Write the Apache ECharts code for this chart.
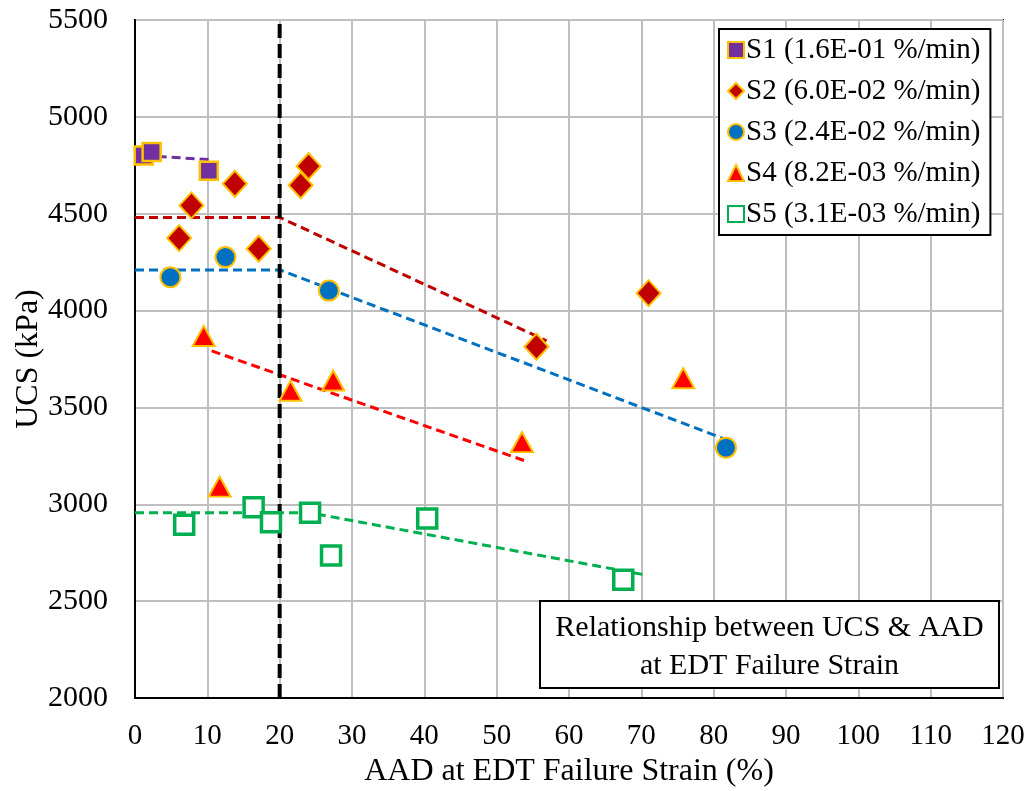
<!DOCTYPE html>
<html>
<head>
<meta charset="utf-8">
<script src="https://cdn.jsdelivr.net/npm/echarts@6/dist/echarts.min.js"></script>
<style>html,body{margin:0;padding:0;background:#fff}#c{width:1029px;height:791px}</style>
</head>
<body>
<div id="c"></div>
<script>
// ---- Data ----
const seriesNames = ['S1 (1.6E-01 %/min)','S2 (6.0E-02 %/min)','S3 (2.4E-02 %/min)','S4 (8.2E-03 %/min)','S5 (3.1E-03 %/min)'];
const s1 = [[1.2,4800],[2.3,4818],[10.2,4722]];
const s2 = [[6.1,4374],[7.8,4543],[13.8,4655],[17.1,4319],[22.9,4647],[24.0,4745],[55.5,3813],[71.0,4090]];
const s3 = [[4.9,4172],[12.5,4276],[26.8,4103],[81.7,3292]];
const s4 = [[9.5,3869],[11.7,3091],[21.5,3586],[27.4,3639],[53.5,3321],[75.8,3651]];
const s5 = [[6.8,2895],[16.4,2985],[18.8,2907],[24.2,2956],[27.1,2735],[40.4,2926],[67.5,2611]];
const t1 = [[1.2,4800],[10.8,4778]];
const t2 = [[0,4481],[20,4481],[56.9,3844]];
const t3 = [[0,4210],[20,4210],[81.5,3337]];
const t4 = [[10.6,3792],[54.0,3223]];
const t5 = [[0,2956],[24.2,2956],[70.3,2637]];
const threshold = [[20,2000],[20,5500]];
const xTicks = {min:0,max:120,interval:10};
const yTicks = {min:2000,max:5500,interval:500};
const noteLines = ['Relationship between UCS & AAD','at EDT Failure Strain'];

const FONT = "'Times New Roman','Liberation Serif',serif";
const ORANGE = '#FFC000';
const colors = ['#7030A0','#C00000','#0070C0','#FF0000','#00B050'];

function trend(data,color){
  return {type:'line',data:data,symbol:'none',silent:true,z:3,
    lineStyle:{color:color,width:3,type:[9,5]},animation:false};
}

const chart = echarts.init(document.getElementById('c'),null,{renderer:'canvas'});
chart.setOption({
  animation:false,
  backgroundColor:'#fff',
  grid:{left:135,right:26,top:20,bottom:93,containLabel:false,outerBoundsMode:'none',
    show:true,borderColor:'#000',borderWidth:2,backgroundColor:'transparent'},
  xAxis:{type:'value',min:xTicks.min,max:xTicks.max,interval:xTicks.interval,
    name:'AAD at EDT Failure Strain (%)',nameLocation:'middle',nameGap:58,nameMoveOverlap:false,
    nameTextStyle:{fontFamily:FONT,fontSize:32,color:'#000'},
    axisLine:{show:true,onZero:false,lineStyle:{color:'#000',width:2}},
    axisTick:{show:false},
    axisLabel:{fontFamily:FONT,fontSize:29,color:'#000',margin:24},
    splitLine:{show:true,lineStyle:{color:'#BFBFBF',width:2}}},
  yAxis:{type:'value',min:yTicks.min,max:yTicks.max,interval:yTicks.interval,
    name:'UCS (kPa)',nameLocation:'middle',nameGap:90,nameMoveOverlap:false,
    nameTextStyle:{fontFamily:FONT,fontSize:32,color:'#000'},
    axisLine:{show:true,onZero:false,lineStyle:{color:'#000',width:2}},
    axisTick:{show:false},
    axisLabel:{fontFamily:FONT,fontSize:30,color:'#000',margin:27,formatter:function(v){return String(v);}},
    splitLine:{show:true,lineStyle:{color:'#BFBFBF',width:2}}},
  legend:{
    orient:'vertical',left:719,top:29,
    data:[
      {name:seriesNames[0],icon:'rect'},
      {name:seriesNames[1],icon:'diamond'},
      {name:seriesNames[2],icon:'circle'},
      {name:seriesNames[3],icon:'triangle'},
      {name:seriesNames[4],icon:'rect'}],
    itemWidth:16,itemHeight:16,itemGap:11,
    padding:[6,10,6,8],
    backgroundColor:'#fff',borderColor:'#000',borderWidth:2,
    textStyle:{fontFamily:FONT,fontSize:29,color:'#000',lineHeight:30,padding:[0,0,0,-3]},
    selectedMode:false
  },
  graphic:[{type:'group',left:539,top:600,z:100,children:[
    {type:'rect',z:100,shape:{x:0,y:0,width:459,height:87},style:{fill:'#fff',stroke:'#000',lineWidth:2}},
    {type:'text',z:101,x:229.5,y:27,style:{text:noteLines[0],font:'30px '+FONT,fill:'#000',textAlign:'center',textVerticalAlign:'middle'}},
    {type:'text',z:101,x:229.5,y:65,style:{text:noteLines[1],font:'30px '+FONT,fill:'#000',textAlign:'center',textVerticalAlign:'middle'}}
  ]}],
  series:[
    {type:'line',data:threshold,symbol:'none',silent:true,z:4,lineStyle:{color:'#000',width:4,type:[14,6]}},
    trend(t1,colors[0]),trend(t2,colors[1]),trend(t3,colors[2]),trend(t4,colors[3]),trend(t5,colors[4]),
    {name:seriesNames[0],type:'scatter',data:s1,symbol:'rect',symbolSize:18,z:5,
      itemStyle:{color:colors[0],borderColor:ORANGE,borderWidth:2.5,opacity:1}},
    {name:seriesNames[1],type:'scatter',data:s2,symbol:'diamond',symbolSize:[24,26],z:5,
      itemStyle:{color:colors[1],borderColor:ORANGE,borderWidth:2,opacity:1}},
    {name:seriesNames[2],type:'scatter',data:s3,symbol:'circle',symbolSize:20,z:5,
      itemStyle:{color:colors[2],borderColor:ORANGE,borderWidth:2,opacity:1}},
    {name:seriesNames[3],type:'scatter',data:s4,symbol:'triangle',symbolSize:[22,20],z:5,
      itemStyle:{color:colors[3],borderColor:ORANGE,borderWidth:2,opacity:1}},
    {name:seriesNames[4],type:'scatter',data:s5,symbol:'rect',symbolSize:19,z:5,
      itemStyle:{color:'#fff',borderColor:colors[4],borderWidth:3.5,opacity:1}}
  ]
});
</script>
</body>
</html>
